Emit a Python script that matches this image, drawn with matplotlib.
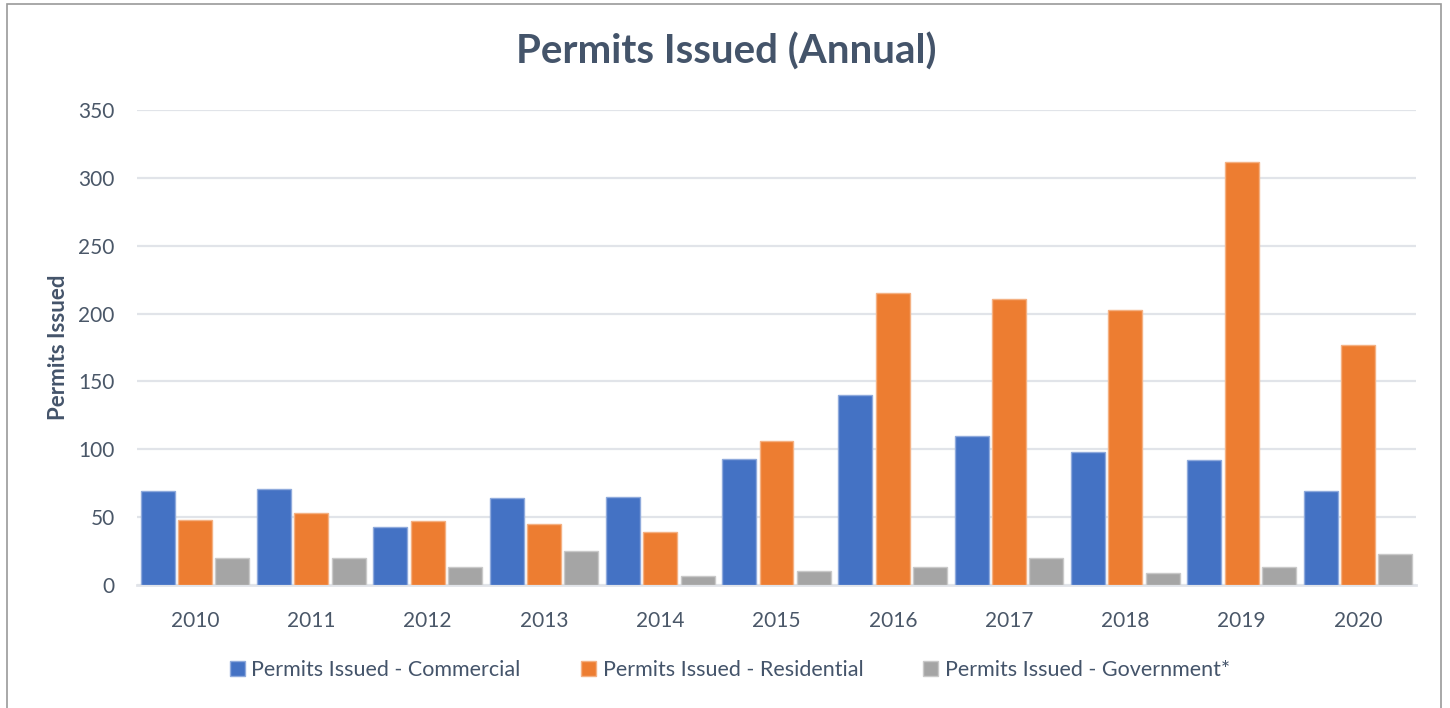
import matplotlib
matplotlib.use("Agg")
import matplotlib.pyplot as plt
import numpy as np
from matplotlib.patches import Rectangle

years = ["2010", "2011", "2012", "2013", "2014", "2015", "2016", "2017", "2018", "2019", "2020"]
commercial = [69, 71, 43, 64, 65, 93, 140, 110, 98, 92, 69]
residential = [48, 53, 47, 45, 39, 106, 215, 211, 203, 312, 177]
government = [20, 20, 13, 25, 7, 10, 13, 20, 9, 13, 23]
series_names = ["Permits Issued - Commercial", "Permits Issued - Residential", "Permits Issued - Government*"]
colors = ["#4472C4", "#ED7D31", "#A5A5A5"]
edge_colors = ["#8FAADC", "#F4B183", "#C9C9C9"]
yticks = [0, 50, 100, 150, 200, 250, 300, 350]

plt.rcParams['font.family'] = ['Lato', 'DejaVu Sans']

fig = plt.figure(figsize=(14.5, 7.08), dpi=100)
ax = fig.add_axes([137/1450, 1 - 585/708, (1416-137)/1450, (585-110)/708])

x = np.arange(len(years))
w = 0.292
stride = 0.321
for i, (vals, c, ec, name) in enumerate(zip([commercial, residential, government], colors, edge_colors, series_names)):
    ax.bar(x + (i - 1) * stride, vals, width=w, color=c, edgecolor=ec, linewidth=1.0, label=name, zorder=3)

ax.set_xlim(-0.5, len(years) - 0.5)
ax.set_ylim(0, 350)
ax.set_yticks(yticks)
ax.set_xticks(x)
ax.set_xticklabels(years)
ax.yaxis.grid(True, color="#E1E4E9", linewidth=1.6, zorder=0)
ax.set_axisbelow(True)
for s in ["top", "right", "left"]:
    ax.spines[s].set_visible(False)
ax.spines["bottom"].set_color("#E1E4E9")
ax.spines["bottom"].set_linewidth(2)
ax.tick_params(axis="both", length=0, labelsize=15, labelcolor="#4A5768")
ax.tick_params(axis="x", pad=19)
ax.tick_params(axis="y", pad=16)

ax.set_ylabel("Permits Issued", fontsize=16, fontweight="bold", color="#44546A")
ax.yaxis.set_label_coords((69 - 137) / 1279, 0.5)

fig.text(726/1450, 1 - 52/708, "Permits Issued (Annual)", ha="center", va="center",
         fontsize=29, fontweight="bold", color="#44546A")

leg = fig.legend(loc="center", bbox_to_anchor=(730/1450, 1 - 670/708), ncol=3, frameon=False,
                 fontsize=15.5, handlelength=0.7, handleheight=0.7, handletextpad=0.3, columnspacing=2.8)
for t in leg.get_texts():
    t.set_color("#44546A")

fig.patches.append(Rectangle((7/1450, -0.01), (1441-7)/1450, 1 - 4/708 + 0.01, transform=fig.transFigure,
                             fill=False, edgecolor="#9A9A9A", linewidth=1.2))

fig.savefig("out.png", dpi=100)
